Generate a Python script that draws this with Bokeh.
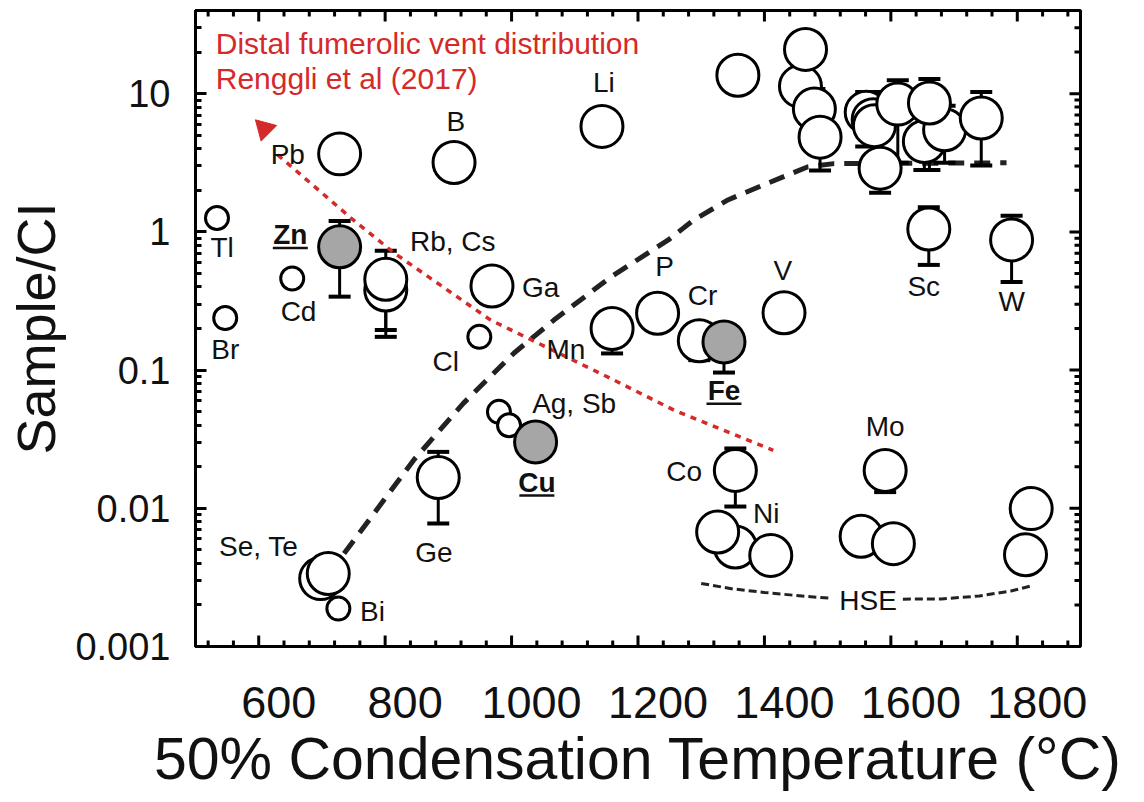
import math
from bokeh.plotting import figure
from bokeh.models import Range1d, LinearAxis, FixedTicker
from bokeh.core.properties import value
from bokeh.embed import file_html
from bokeh.resources import INLINE

FONT = "Liberation Sans"

# ---------------- data ----------------
x_ticks = [600, 800, 1000, 1200, 1400, 1600, 1800]
x_tick_labels = ["600", "800", "1000", "1200", "1400", "1600", "1800"]
y_ticks = [0.001, 0.01, 0.1, 1, 10]
y_tick_labels = ["0.001", "0.01", "0.1", "1", "10"]

# large open circles (drawing order matters for overlaps)
open_names = ["Pb", "B", "Li", "Cs", "Rb", "Ga", "Mn", "P", "Cr", "V", "Ge", "Se", "Te",
              "Co", "Mo", "Sc", "W",
              "Eu", "Ba", "Sr", "Ce", "Yb", "Nb", "Ta", "La", "Al", "Hf", "Ti", "U", "Gd", "Zr",
              "Ni", "Pd", "Pt", "Ru", "Ir", "Re", "Os"]
open_t = [728, 909, 1143, 801, 801, 969, 1159, 1231, 1297, 1431, 884, 698, 710,
          1354, 1591, 1660, 1791,
          1358, 1457, 1465, 1479, 1488, 1561, 1572, 1574, 1653, 1685, 1583, 1611, 1661, 1743,
          1354, 1326, 1410, 1553, 1604, 1822, 1813]
open_v = [3.67, 3.18, 5.8, 0.38, 0.454, 0.406, 0.2, 0.258, 0.163, 0.26, 0.0167, 0.0031, 0.00337,
          0.0188, 0.0188, 1.05, 0.875,
          13.6, 11.3, 20.9, 7.74, 4.85, 7.33, 6.49, 5.87, 4.51, 5.48, 2.89, 8.41, 8.57, 6.67,
          0.00525, 0.00673, 0.00456, 0.00627, 0.00555, 0.00995, 0.00461]
open_lo = [None, None, None, 0.174, 0.195, None, 0.132, None, 0.118, None, 0.00775, None, None,
           0.0103, 0.0131, 0.577, 0.434,
           None, None, None, None, 2.78, 4.15, 3.52, 3.17, 2.81, 3.17, 1.92, 3.17, 2.81, 3.02,
           None, None, None, None, None, None, None]
open_hi = [None, None, None, None, 0.73, None, None, None, None, None, 0.0256, None, None,
           0.0271, None, 1.51, 1.31,
           None, None, None, 10.8, 6.7, 10.3, 10.3, None, None, 8.18, None, 12.5, 12.8, 10.3,
           None, None, None, None, None, None, None]

# small open circles
small_names = ["Tl", "Br", "Cd", "Cl", "Sb", "Ag", "Bi"]
small_t = [534, 547, 653, 949, 980, 996, 726]
small_v = [1.26, 0.238, 0.46, 0.174, 0.0499, 0.0399, 0.00188]

# grey filled circles
grey_names = ["Zn", "Cu", "Fe"]
grey_t = [728, 1038, 1336]
grey_v = [0.78, 0.0302, 0.16]
grey_lo = [0.34, None, 0.096]
grey_hi = [1.2, None, None]

# black dashed trend curve
trend_t = [735, 845, 924, 1004, 1067, 1157, 1248, 1288, 1343, 1406, 1469, 1510, 1783]
trend_v = [0.0047, 0.0223, 0.0577, 0.133, 0.23, 0.472, 0.875, 1.22, 1.71, 2.26, 2.96, 3.12, 3.16]

# red dotted fumarolic vent trend
vent_t = [630, 746, 814, 967, 1162, 1257, 1414]
vent_v = [3.61, 1.26, 0.705, 0.23, 0.0847, 0.0513, 0.0263]
vent_head_t = [609]
vent_head_v = [5.57]

# HSE bracket curve
hse_left_t = [1300, 1350, 1400, 1450, 1506]
hse_left_v = [0.00286, 0.00261, 0.00246, 0.00234, 0.00223]
hse_right_t = [1619, 1680, 1740, 1790, 1825]
hse_right_v = [0.0022, 0.00221, 0.00232, 0.00252, 0.00277]

# element labels
label_text = ["Pb", "B", "Li", "Tl", "Rb, Cs", "Cd", "Ga", "Br", "Cl", "Mn", "Ag, Sb", "Ge",
              "Se, Te", "Bi", "P", "Cr", "V", "Co", "Ni", "Mo", "Sc", "W", "HSE"]
label_t = [646, 912, 1146, 542, 907, 663, 1046, 547, 896, 1086, 1099, 877,
           600, 780, 1242, 1302, 1429, 1273, 1403, 1591, 1652, 1791, 1564]
label_v = [3.61, 6.27, 12.0, 0.766, 0.851, 0.264, 0.399, 0.14, 0.115, 0.141, 0.0574, 0.00478,
           0.00533, 0.0018, 0.561, 0.349, 0.525, 0.0186, 0.00917, 0.0388, 0.402, 0.3126, 0.00215]
bold_text = ["Zn", "Cu", "Fe"]
bold_t = [650, 1040, 1336]
bold_v = [0.951, 0.01535, 0.0708]

note_text = ["Distal fumerolic vent distribution", "Renggli et al (2017)"]
note_t = [532, 532]
note_v = [22.96, 12.8]

# ---------------- figure ----------------
X0, X1 = 500, 1900
Y0, Y1 = 0.001, 40
FW, FH = 885, 636
RED = "#d42a2a"
INK = "#111111"

p = figure(x_range=Range1d(X0, X1), y_range=Range1d(Y0, Y1), y_axis_type="log",
           x_axis_location=None,
           frame_width=FW, frame_height=FH,
           min_border_left=195, min_border_right=64, min_border_top=10, min_border_bottom=0,
           toolbar_location=None, output_backend="svg")
p.grid.visible = False
p.outline_line_color = "black"
p.outline_line_width = 3
p.background_fill_color = "white"
p.border_fill_color = "white"

x_minor = [t for t in range(520, X1, 40) if t not in x_ticks]
y_minor = [m * 10 ** e for e in range(-3, 2) for m in range(2, 10) if m * 10 ** e <= Y1]

# left axis (real axis with labels)
ya = p.yaxis[0]
ya.ticker = FixedTicker(ticks=y_ticks, minor_ticks=y_minor)
ya.axis_line_width = 3
ya.major_tick_in = 11
ya.major_tick_out = 0
ya.minor_tick_in = 6
ya.minor_tick_out = 0
ya.major_tick_line_width = 3
ya.minor_tick_line_width = 3
ya.major_label_overrides = dict(zip(y_ticks, y_tick_labels))
ya.major_label_text_font = FONT
ya.major_label_text_font_size = "38px"
ya.major_label_text_color = INK
ya.major_label_standoff = 25
ya.axis_label = "Sample/CI"
ya.axis_label_text_font = FONT
ya.axis_label_text_font_size = "54px"
ya.axis_label_text_font_style = "normal"
ya.axis_label_text_color = INK
ya.axis_label_standoff = 6

# bottom axis carrying the tick labels, printed slightly right of the ticks as in the reference
shift = 20 / (FW / (X1 - X0))
p.extra_x_ranges = {"lab": Range1d(X0 - shift, X1 - shift)}
lab = LinearAxis(x_range_name="lab", ticker=FixedTicker(ticks=x_ticks, minor_ticks=[]),
                 axis_line_color=None, major_tick_line_color=None, minor_tick_line_color=None,
                 major_tick_out=0, major_tick_in=0, minor_tick_out=0, minor_tick_in=0)
lab.major_label_overrides = dict(zip(x_ticks, x_tick_labels))
lab.major_label_text_font = FONT
lab.major_label_text_font_size = "45px"
lab.major_label_text_color = INK
lab.major_label_standoff = 40
lab.axis_label = "50% Condensation Temperature (°C)"
lab.axis_label_text_font = FONT
lab.axis_label_text_font_size = "59px"
lab.axis_label_text_font_style = "normal"
lab.axis_label_text_color = INK
lab.axis_label_standoff = 5
p.add_layout(lab, "below")

# inward tick marks on bottom, top and right frame edges
for yy in (Y0, Y1):
    p.scatter(x_ticks, [yy] * len(x_ticks), marker="dash", angle=math.pi / 2, size=22,
              line_width=3, line_color="black")
    p.scatter(x_minor, [yy] * len(x_minor), marker="dash", angle=math.pi / 2, size=12,
              line_width=3, line_color="black")
p.scatter([X1] * len(y_ticks), y_ticks, marker="dash", size=22, line_width=3, line_color="black")
p.scatter([X1] * len(y_minor), y_minor, marker="dash", size=12, line_width=3, line_color="black")

# ---------------- glyphs ----------------
p.line(trend_t, trend_v, line_width=5, line_dash="16 10", line_color="#222222")
p.line(hse_left_t, hse_left_v, line_width=3, line_dash="8 4", line_color="#222222")
p.line(hse_right_t, hse_right_v, line_width=3, line_dash="8 4", line_color="#222222")

# error bars
sx, sy0, sy1, cx, cy = [], [], [], [], []
for t, v, lo, hi in list(zip(open_t, open_v, open_lo, open_hi)) + list(zip(grey_t, grey_v, grey_lo, grey_hi)):
    for e in (lo, hi):
        if e is not None:
            sx.append(t); sy0.append(v); sy1.append(e)
            cx.append(t); cy.append(e)
p.segment(x0=sx, y0=sy0, x1=sx, y1=sy1, line_width=3, line_color="black")
p.scatter(cx, cy, marker="dash", size=22, line_width=4, line_color="black")

p.scatter(open_t, open_v, marker="circle", size=42, fill_color="white",
          line_color="black", line_width=3)
p.scatter(small_t, small_v, marker="circle", size=23, fill_color="white",
          line_color="black", line_width=3)
p.scatter(grey_t, grey_v, marker="circle", size=42, fill_color="#a6a6a6",
          line_color="black", line_width=3)

# red vent trend with arrow head
p.line(vent_t, vent_v, line_width=3.5, line_dash="6 6", line_color=RED)
p.scatter(vent_head_t, vent_head_v, marker="triangle", size=22, angle=0.785,
          fill_color=RED, line_color=RED)

# texts
p.text(label_t, label_v, text=label_text, text_font=value(FONT), text_font_size=value("28px"),
       text_align="center", text_baseline="middle", text_color=INK)
p.text(bold_t, bold_v, text=bold_text, text_font=value(FONT), text_font_size=value("28px"),
       text_font_style="bold", text_align="center", text_baseline="middle", text_color=INK)
px_per_dec = FH / math.log10(Y1 / Y0)
under_v = [v * 10 ** (-13 / px_per_dec) for v in bold_v]
p.scatter(bold_t, under_v, marker="dash", size=[17.5 * len(s) for s in bold_text],
          line_width=2.5, line_color=INK)
p.text(note_t, note_v, text=note_text, text_font=value(FONT), text_font_size=value("30px"),
       text_align="left", text_baseline="middle", text_color=RED)

open("out.html", "w").write(file_html(p, INLINE))
